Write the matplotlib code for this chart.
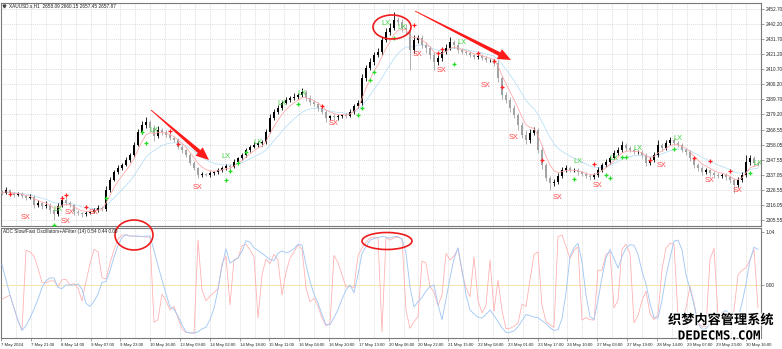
import numpy as np
import pandas as pd
import matplotlib
matplotlib.use("Agg")
import matplotlib.pyplot as plt
from matplotlib.patches import Ellipse, Polygon
import matplotlib.patheffects as pe

# ---------------- data ----------------
first_open = 2325.5
closes = [
 2324.4, 2326.5, 2324.4, 2323.0, 2323.7, 2322.3, 2320.9, 2321.6, 2316.0, 2317.4,
 2315.3, 2316.0, 2312.5, 2309.7, 2315.3, 2319.5, 2317.4, 2316.0, 2311.1, 2310.4,
 2309.7, 2310.4, 2311.1, 2312.5, 2313.9, 2313.2, 2326.5, 2333.5, 2339.0, 2341.8,
 2343.9, 2347.4, 2350.9, 2357.9, 2366.9, 2371.8, 2373.9, 2369.7, 2364.1, 2368.3,
 2366.9, 2364.8, 2362.7, 2361.3, 2356.5, 2354.4, 2350.9, 2345.3, 2341.8, 2336.9,
 2337.6, 2336.9, 2338.3, 2339.0, 2340.4, 2341.8, 2343.2, 2342.5, 2346.0, 2348.8,
 2350.9, 2354.4, 2356.5, 2357.9, 2359.3, 2360.0, 2366.9, 2376.7, 2380.9, 2383.7,
 2387.2, 2389.2, 2390.6, 2391.3, 2392.7, 2394.8, 2390.6, 2387.9, 2386.5, 2383.7,
 2380.9, 2376.7, 2378.1, 2377.4, 2378.1, 2378.8, 2378.1, 2380.9, 2385.1, 2387.2,
 2404.6, 2411.6, 2415.7, 2420.6, 2422.7, 2431.1, 2436.7, 2439.5, 2445.0, 2443.6,
 2439.5, 2438.1, 2424.1, 2431.1, 2432.5, 2427.6, 2425.5, 2420.6, 2415.7, 2418.5,
 2422.7, 2425.5, 2429.7, 2427.6, 2424.1, 2422.7, 2422.0, 2420.6, 2419.2, 2419.9,
 2418.5, 2417.1, 2417.1, 2415.0, 2404.6, 2392.7, 2389.2, 2383.7, 2378.8, 2371.8,
 2364.8, 2361.3, 2366.2, 2368.3, 2354.4, 2343.9, 2334.8, 2331.4, 2332.1, 2336.2,
 2340.4, 2341.8, 2340.4, 2340.4, 2339.0, 2337.6, 2336.2, 2335.5, 2336.9, 2340.4,
 2343.9, 2346.0, 2348.8, 2352.3, 2354.4, 2357.9, 2355.8, 2354.4, 2353.0, 2353.0,
 2350.9, 2345.3, 2347.4, 2350.9, 2357.9, 2355.8, 2359.3, 2361.3, 2359.3, 2357.9,
 2354.4, 2353.0, 2348.8, 2343.9, 2341.8, 2339.0, 2340.4, 2338.3, 2336.9, 2336.2,
 2336.9, 2335.5, 2333.5, 2330.0, 2333.5, 2336.9, 2346.0, 2348.8, 2345.3, 2344.6]
wick_up = [
 1.2, 2.0, 1.0, 0.8, 1.5, 1.1, 0.9, 2.2, 1.4, 1.8,
 0.9, 2.6, 1.2, 1.0, 1.8, 3.0, 2.4, 1.1, 0.8, 1.2,
 0.7, 1.5, 1.0, 1.3, 2.0, 1.6, 2.5, 1.8, 1.4, 2.2,
 1.5, 1.9, 1.2, 2.4, 1.8, 2.6, 3.2, 1.4, 2.0, 2.8,
 1.5, 1.2, 2.1, 1.0, 1.6, 1.3, 0.9, 1.2, 1.1, 0.8,
 1.4, 1.0, 1.2, 0.9, 1.5, 1.1, 1.6, 1.3, 1.8, 1.0,
 1.4, 1.2, 1.6, 2.0, 1.3, 1.5, 2.2, 2.8, 1.8, 2.0,
 1.6, 2.4, 1.4, 3.0, 1.5, 2.6, 1.2, 1.8, 1.0, 1.5,
 1.1, 1.4, 1.0, 1.6, 1.2, 0.9, 1.4, 1.8, 1.6, 2.0,
 2.5, 2.2, 3.0, 1.8, 2.8, 2.0, 2.5, 3.2, 5.6, 2.4,
 2.0, 2.8, 1.6, 3.5, 2.2, 1.8, 2.0, 1.5, 2.4, 1.8,
 2.2, 2.6, 3.4, 1.5, 1.8, 1.2, 1.6, 1.4, 1.0, 1.5,
 1.2, 1.6, 1.0, 1.4, 2.0, 1.5, 2.2, 1.8, 2.4, 1.6,
 2.0, 3.5, 2.8, 2.2, 1.6, 2.0, 1.4, 1.2, 2.0, 1.8,
 2.4, 2.0, 1.6, 1.5, 1.2, 1.0, 1.4, 1.2, 1.6, 1.8,
 1.5, 1.8, 1.6, 2.2, 1.8, 3.0, 1.6, 1.4, 1.2, 1.5,
 1.1, 1.4, 1.8, 2.0, 3.6, 1.6, 2.0, 1.8, 1.4, 1.5,
 1.2, 1.6, 1.2, 1.0, 1.4, 1.2, 1.6, 1.0, 1.3, 1.1,
 1.4, 1.2, 1.0, 1.5, 2.0, 2.2, 4.9, 2.4, 1.6, 1.2]
wick_dn = [
 1.5, 1.0, 1.8, 1.2, 0.9, 1.4, 1.1, 1.0, 2.2, 1.6,
 1.8, 1.2, 2.0, 4.1, 1.5, 1.0, 1.4, 1.6, 2.0, 1.5,
 1.8, 1.2, 1.0, 0.9, 1.3, 1.6, 1.2, 1.5, 1.0, 1.4,
 1.2, 1.0, 1.6, 1.3, 1.0, 1.4, 1.8, 2.2, 3.5, 1.6,
 2.0, 1.5, 1.2, 1.6, 1.4, 1.8, 1.5, 1.2, 1.6, 2.4,
 1.2, 1.0, 1.4, 1.1, 1.3, 1.6, 1.2, 1.8, 1.0, 1.2,
 1.5, 1.1, 1.4, 1.0, 1.6, 1.8, 1.2, 1.0, 1.4, 1.5,
 1.2, 1.0, 1.6, 1.2, 1.4, 1.1, 2.0, 1.8, 1.5, 2.2,
 1.6, 3.0, 1.4, 1.8, 2.2, 1.6, 1.2, 1.0, 1.4, 1.2,
 1.5, 1.8, 1.2, 2.0, 1.5, 1.8, 1.4, 2.0, 1.6, 2.4,
 2.8, 3.0, 13.9, 2.0, 2.4, 2.0, 3.6, 2.5, 5.5, 2.0,
 1.8, 1.6, 1.4, 2.0, 1.8, 1.5, 1.4, 1.2, 1.6, 1.3,
 1.5, 1.2, 1.6, 2.2, 3.0, 2.8, 2.0, 2.6, 2.2, 3.2,
 2.4, 2.6, 1.8, 1.6, 2.4, 2.8, 2.2, 4.9, 1.8, 1.6,
 1.4, 1.6, 1.2, 1.5, 1.8, 1.4, 1.6, 2.0, 1.5, 1.2,
 1.4, 1.2, 1.6, 1.0, 1.4, 1.2, 1.8, 1.5, 1.3, 1.6,
 1.8, 2.4, 1.6, 1.4, 1.2, 1.8, 1.4, 1.2, 1.6, 1.4,
 1.6, 1.8, 2.0, 2.4, 1.8, 2.0, 1.6, 1.8, 2.2, 1.6,
 1.4, 2.0, 1.8, 5.6, 1.6, 1.4, 1.2, 1.8, 2.0, 1.6]

osc_slow = [
 0.40, 0.10, -0.20, -0.45, -0.70, -0.89, -0.80, -0.65, -0.47, -0.28,
 -0.05, 0.08, 0.14, 0.14, -0.05, -0.07, 0.00, 0.00, 0.00, 0.02,
 -0.08, -0.36, -0.42, -0.32, -0.18, 0.05, 0.07, 0.28, 0.55, 0.77,
 0.93, 0.99, 0.96, 0.96, 0.96, 0.95, 0.96, 0.96, 0.68, 0.38,
 0.10, -0.17, -0.43, -0.48, -0.61, -0.78, -0.92, -0.94, -0.94, -0.92,
 -0.86, -0.83, -0.68, -0.46, -0.09, 0.37, 0.71, 0.43, 0.48, 0.53,
 0.66, 0.87, 0.84, 0.73, 0.68, 0.62, 0.56, 0.50, 0.48, 0.62,
 0.67, 0.63, 0.66, 0.71, 0.80, 0.78, 0.40, 0.07, -0.18, -0.35,
 -0.58, -0.78, -0.78, -0.64, -0.48, -0.28, -0.10, 0.00, -0.15, 0.20,
 0.62, 0.75, 0.88, 0.91, 0.93, 0.95, 0.94, 0.92, 0.95, 0.95,
 0.90, 0.63, -0.04, -0.43, -0.33, -0.24, -0.12, -0.03, 0.00, -0.38,
 -0.68, -0.28, 0.14, 0.51, 0.73, 0.30, -0.19, -0.49, -0.57, -0.63,
 -0.65, -0.58, -0.49, -0.60, -0.72, -0.84, -0.93, -0.93, -0.90, -0.82,
 -0.70, -0.58, -0.60, -0.63, -0.64, -0.70, -0.76, -0.84, -0.89, -0.88,
 -0.66, -0.15, 0.56, 0.73, 0.82, 0.45, -0.20, -0.62, -0.68, -0.30,
 0.15, 0.53, 0.70, 0.52, 0.33, 0.56, 0.72, 0.79, 0.78, 0.60,
 0.27, 0.02, -0.36, -0.64, -0.65, -0.30, 0.18, 0.53, 0.86, 0.88,
 0.69, 0.19, -0.07, -0.39, -0.76, -0.87, -0.86, -0.76, -0.67, -0.60,
 -0.54, -0.50, -0.59, -0.68, -0.64, -0.36, 0.02, 0.49, 0.74, 0.70]
osc_fast = [
 -0.28, -0.24, -0.20, -0.45, -0.70, -0.89, 0.68, 0.65, 0.57, 0.33,
 0.05, 0.04, 0.08, 0.08, -0.03, 0.10, 0.11, 0.00, 0.03, -0.06,
 -0.31, 0.07, 0.42, 0.70, 0.65, 0.14, 0.12, 0.43, 0.69, 0.90,
 0.98, 0.98, 0.96, 0.96, 0.95, 0.95, 0.94, 0.94, -0.73, -0.68,
 -0.18, -0.31, -0.49, -0.42, -0.65, -0.86, -0.93, -0.94, -0.95, 0.88,
 -0.10, -0.31, -0.22, -0.15, -0.07, 0.42, 0.56, -0.39, 0.50, 0.53,
 0.77, 0.80, 0.69, 0.55, -0.65, 0.20, 0.51, 0.42, 0.60, 0.48,
 -0.20, 0.25, 0.52, 0.65, 0.78, 0.70, -0.05, -0.33, -0.26, -0.42,
 -0.65, -0.80, -0.75, 0.58, 0.44, 0.20, -0.04, -0.03, -0.05, 0.58,
 0.72, 0.84, 0.92, 0.94, 0.93, -0.92, 0.93, 0.88, 0.92, 0.94,
 0.90, -0.50, -0.85, -0.72, -0.62, 0.47, 0.43, -0.03, -0.14, -0.40,
 -0.20, 0.62, 0.49, 0.57, 0.71, 0.25, -0.05, -0.23, 0.55, -0.30,
 -0.55, -0.40, 0.49, -0.51, 0.10, -0.50, -0.86, -0.85, -0.81, -0.75,
 -0.38, -0.42, 0.10, 0.60, 0.65, -0.40, -0.72, -0.78, -0.83, 0.95,
 0.98, 0.75, 0.52, 0.68, 0.75, -0.69, -0.64, -0.68, -0.69, 0.29,
 0.29, 0.60, 0.65, -0.45, -0.30, 0.70, 0.80, 0.62, -0.74, -0.60,
 -0.30, -0.12, -0.56, -0.68, -0.58, 0.30, 0.72, 0.82, 0.80, -0.60,
 -0.69, -0.45, -0.03, -0.35, -0.73, -0.82, -0.82, 0.50, 0.72, -0.58,
 -0.64, -0.68, -0.62, -0.50, 0.20, 0.29, 0.34, 0.49, 0.70, -0.45]

sell_plus_bar = [2, 15, 16, 21, 42, 44, 80, 103, 109, 110, 119, 123, 125, 135, 148, 162, 173, 177, 182]
sell_plus_price = [2323.7, 2320.9, 2323.0, 2314.6, 2367.6, 2358.5, 2385.0, 2441.5, 2422.0, 2424.8,
                   2422.0, 2416.4, 2398.3, 2347.4, 2344.6, 2347.4, 2348.8, 2346.7, 2339.7]
buy_plus_bar = [13, 26, 35, 36, 56, 57, 59, 61, 74, 89, 90, 92, 93, 98, 113, 143, 151, 152, 155, 156, 168, 187]
buy_plus_price = [2302.1, 2320.9, 2366.9, 2359.2, 2333.4, 2339.7, 2345.3, 2353.0, 2386.4, 2378.8, 2383.7,
                  2403.2, 2408.8, 2432.5, 2414.3, 2334.1, 2336.9, 2334.8, 2349.5, 2349.5, 2355.1, 2338.3]
sx_bar = [6, 16, 17, 23, 49, 83, 104, 110, 121, 128, 139, 149, 165, 177, 184]
sx_price = [2307.6, 2304.4, 2311.1, 2310.7, 2327.9, 2373.2, 2421.3, 2409.5, 2399.7, 2363.4,
            2320.9, 2329.3, 2343.9, 2333.4, 2325.8]
lx_bar = [14, 38, 56, 64, 70, 75, 96, 100, 115, 144, 153, 159, 169, 189]
lx_price = [2313.2, 2368.3, 2349.5, 2359.9, 2387.1, 2394.1, 2442.9, 2440.1, 2429.0, 2346.7,
            2348.1, 2355.1, 2362.7, 2345.3]

price_ticks = [2452.70, 2442.20, 2431.70, 2421.20, 2410.70, 2400.20, 2389.70, 2379.20,
               2368.55, 2358.05, 2347.55, 2337.05, 2326.55, 2316.05, 2305.55]
osc_ticks = [1.04, 0.00]
time_labels = ["7 May 2024", "7 May 21:00", "8 May 14:00", "9 May 07:00", "9 May 23:00",
               "10 May 16:00", "13 May 09:00", "14 May 02:00", "14 May 18:00", "15 May 11:00",
               "16 May 04:00", "16 May 20:00", "17 May 13:00", "20 May 06:00", "20 May 22:00",
               "21 May 15:00", "22 May 08:00", "23 May 01:00", "23 May 17:00", "24 May 10:00",
               "27 May 03:00", "27 May 19:00", "28 May 14:00", "29 May 07:00", "29 May 23:00",
               "30 May 16:00"]

# ---------------- figure ----------------
W, H = 782, 349
fig = plt.figure(figsize=(W / 100, H / 100), dpi=100)
fig.patch.set_facecolor("white")
FONT = "Liberation Sans"
FS = 3.4
GRID = "#d2d2d2"
SPINE = "#7a7a7a"

ax1 = fig.add_axes([1 / W, 1 - 226 / H, 760 / W, 223 / H])
ax2 = fig.add_axes([1 / W, 1 - 338 / H, 760 / W, 110 / H])

closes_a = np.array(closes)
opens_a = np.r_[first_open, closes_a[:-1]]
highs_a = np.maximum(opens_a, closes_a) + np.array(wick_up)
lows_a = np.minimum(opens_a, closes_a) - np.array(wick_dn)
idx = np.arange(len(closes_a))
bull = closes_a >= opens_a
cols = np.where(bull, "#000000", "#a3a3a3")

xmin, xmax = -0.25, 189.75
tick_pos = [7.45 * k - 0.175 for k in range(len(time_labels))]
grid_pos = [7.45 * k / 2 - 0.175 for k in range(2 * len(time_labels) + 2)]

for ax in (ax1, ax2):
    ax.set_xlim(xmin, xmax)
    for g in grid_pos:
        ax.axvline(g, color=GRID, lw=0.5, ls=(0, (1.5, 1.5)), zorder=0)
    for s in ax.spines.values():
        s.set_color(SPINE)
        s.set_linewidth(0.8)
    ax.yaxis.tick_right()
    ax.tick_params(axis="both", labelsize=FS, length=2, width=0.5, color=SPINE,
                   pad=1.2, labelcolor="#222222")

# price panel
ax1.set_ylim(2301.37, 2456.89)
for p in price_ticks:
    ax1.axhline(p, color=GRID, lw=0.5, ls=(0, (1.5, 1.5)), zorder=0)
ax1.vlines(idx, lows_a, highs_a, colors=cols, lw=0.6, zorder=2)
ax1.bar(idx, np.maximum(np.abs(closes_a - opens_a), 0.3), bottom=np.minimum(opens_a, closes_a),
        width=0.6, color=cols, lw=0, zorder=3)
ma_fast = pd.Series(closes_a).ewm(span=5, adjust=False).mean()
ma_slow = pd.Series(closes_a).ewm(span=13, adjust=False).mean()
ax1.plot(idx, ma_fast, color="#ffa3a3", lw=0.55, zorder=4)
ax1.plot(idx, ma_slow, color="#b5def7", lw=0.55, zorder=1)
ax1.plot(sell_plus_bar, sell_plus_price, ls="none", marker="+", ms=3, mew=0.9, color="#ff2020", zorder=5)
ax1.plot(buy_plus_bar, buy_plus_price, ls="none", marker="+", ms=3, mew=0.9, color="#22dd22", zorder=5)
for b, p in zip(sx_bar, sx_price):
    ax1.text(b, p, "SX", color="#ff4a4a", fontsize=5.3, family=FONT, ha="center", va="center", zorder=6)
for b, p in zip(lx_bar, lx_price):
    ax1.text(b, p, "LX", color="#3cd23c", fontsize=5.3, family=FONT, ha="center", va="center", zorder=6,
             clip_on=True)
ax1.set_yticks(price_ticks)
ax1.set_yticklabels([f"{p:.2f}" for p in price_ticks], family=FONT)
ax1.set_xticks(tick_pos)
ax1.tick_params(axis="x", length=0, labelbottom=False)

# oscillator panel
ax2.set_ylim(-1.04, 1.118)
ax2.axhline(0, color="#f3dfa0", lw=0.6, zorder=1)
ax2.plot(idx, osc_fast, color="#ffadad", lw=0.55, zorder=3)
ax2.plot(idx, osc_slow, color="#a3c8f5", lw=0.65, zorder=4)
ax2.set_yticks(osc_ticks)
ax2.set_yticklabels([f"{v:.2f}" for v in osc_ticks], family=FONT)
ax2.set_xticks(tick_pos)
ax2.set_xticklabels(time_labels, family=FONT, ha="left", fontsize=3.1)
ax2.tick_params(axis="x", length=2, pad=1.5)

# ---------------- overlay: annotations ----------------
ov = fig.add_axes([0, 0, 1, 1], zorder=10)
ov.set_xlim(0, W)
ov.set_ylim(H, 0)
ov.axis("off")
ov.patch.set_alpha(0)

ov.text(9, 6, "XAUUSD.s,H1  2658.09 2660.15 2657.45 2657.87", fontsize=FS, family=FONT,
        color="#222222", va="center", ha="left")
ov.plot([4], [6], marker="v", ms=2, color="#444444")
ov.text(3, 232, "ADC Slow/Fast Oscillators+AFilter (14) 0.54 0.44 0.00", fontsize=FS, family=FONT,
        color="#222222", va="center", ha="left")


def tapered_arrow(tail, tip, hl=13, hw=5.5, w0=0.4, w1=2.0):
    t = np.array(tail, float)
    p = np.array(tip, float)
    d = (p - t) / np.linalg.norm(p - t)
    n = np.array([-d[1], d[0]])
    b = p - d * hl
    pts = [t + n * w0, b + n * w1, b + n * hw, p, b - n * hw, b - n * w1, t - n * w0]
    ov.add_patch(Polygon(pts, closed=True, color="#ff1a1a", lw=0))


tapered_arrow((151, 110), (209, 160))
tapered_arrow((415, 11), (511, 60))

for (cx, cy, w, h) in [(392, 27, 38, 24), (134, 235, 38, 30), (387, 241, 50, 17)]:
    ov.add_patch(Ellipse((cx, cy), w, h, fill=False, ec="#ee1c1c", lw=1.2))

halo = [pe.withStroke(linewidth=1.6, foreground="white")]
ov.text(721, 320, "织梦内容管理系统", fontsize=9.5, family=["Noto Sans CJK SC", "DejaVu Sans"],
        weight="bold", color="black", ha="center", va="center", path_effects=halo)
ov.text(719, 336, "DEDECMS.COM", fontsize=9, family="DejaVu Sans Mono", weight="bold",
        color="black", ha="center", va="center", path_effects=halo)

fig.savefig("out.png", dpi=100, facecolor="white")
